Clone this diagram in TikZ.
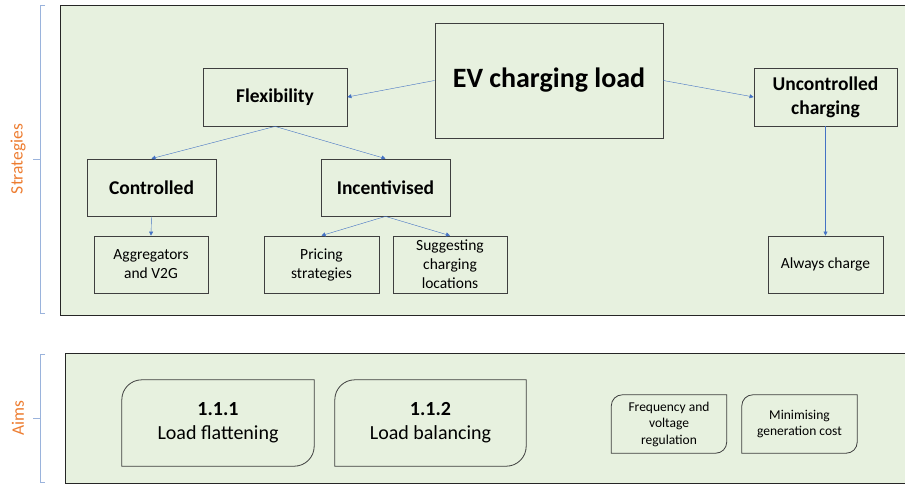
\documentclass[tikz,border=0pt]{standalone}
\usepackage{fontspec}
\setmainfont{Carlito}
\usetikzlibrary{arrows.meta}
\definecolor{panelgreen}{HTML}{E7F1DF}
\definecolor{boxline}{HTML}{3F3F3F}
\definecolor{arrowblue}{HTML}{4472C4}
\definecolor{bracketblue}{HTML}{9AB3DC}
\definecolor{labelorange}{HTML}{ED7D31}
\tikzset{
  box/.style={draw=boxline, line width=0.8pt, inner sep=0pt, align=center},
  title/.style={box, font=\fontsize{19.5}{24}\selectfont\bfseries},
  leaf/.style={box, font=\fontsize{15.5}{19}\selectfont},
  aim/.style={inner sep=0pt, align=center},
  link/.style={draw=arrowblue, line width=0.4pt, -{Triangle[length=4pt,width=4pt]}},
  bracket/.style={draw=bracketblue, line width=0.8pt},
  side/.style={text=labelorange, rotate=90, font=\fontsize{17.5}{20}\selectfont},
}
\begin{document}
\begin{tikzpicture}[x=1pt,y=-1pt]
\useasboundingbox (0,0) rectangle (905,485);
% panels and brackets
\draw[fill=panelgreen, draw=black!85, line width=1pt] (60,5) rectangle (915,315);
\draw[fill=panelgreen, draw=black!85, line width=1pt] (65,353) rectangle (915,483);
\draw[bracket] (45,5) -- (40,5) -- (40,313) -- (45,313) (40,159) -- (33,159);
\draw[bracket] (45,354) -- (40,354) -- (40,482) -- (45,482) (40,418) -- (33,418);
\node[side] (stratlabel) at (18,159) {Strategies};
\node[side] (aimlabel) at (18,418) {Aims};
% strategies
\node[box, minimum width=228pt, minimum height=115pt, font=\fontsize{28}{32}\selectfont\bfseries] (ev) at (549,80.5) {EV charging load};
\node[title, minimum width=144pt, minimum height=58pt] (flex) at (275,97) {Flexibility};
\node[title, minimum width=143pt, minimum height=58pt] (unc) at (825.5,97) {Uncontrolled\\charging};
\node[title, minimum width=129pt, minimum height=57pt] (ctrl) at (151.5,187.5) {Controlled};
\node[title, minimum width=129pt, minimum height=57pt] (inc) at (385.5,187.5) {Incentivised};
\node[leaf, minimum width=114pt, minimum height=57pt] (agg) at (151,264.5) {Aggregators\\and V2G};
\node[leaf, minimum width=115pt, minimum height=57pt] (price) at (321.5,264.5) {Pricing\\strategies};
\node[leaf, minimum width=114pt, minimum height=57pt] (sugg) at (450,264.5) {Suggesting\\charging\\locations};
\node[leaf, minimum width=115pt, minimum height=57pt] (always) at (825.5,264.5) {Always charge};
\draw[link] (ev.west) -- (flex.east);
\draw[link] (ev.east) -- (unc.west);
\draw[link] (flex.south) -- (ctrl.north);
\draw[link] (flex.south) -- (inc.north);
\draw[link] (ctrl.south) -- (agg.north);
\draw[link] (inc.south) -- (price.north);
\draw[link] (inc.south) -- (sugg.north);
\draw[link] (unc.south) -- (always.north);
% aims
\node[aim, minimum width=192pt, minimum height=86pt, font=\fontsize{20}{24}\selectfont] (flat) at (218,423) {\textbf{1.1.1}\\Load flattening};
\node[aim, minimum width=191pt, minimum height=86pt, font=\fontsize{20}{24}\selectfont] (bal) at (430.5,423) {\textbf{1.1.2}\\Load balancing};
\node[aim, minimum width=115pt, minimum height=58pt, font=\fontsize{13.5}{16.5}\selectfont] (freq) at (669,424) {Frequency and\\voltage\\regulation};
\node[aim, minimum width=115pt, minimum height=58pt, font=\fontsize{13.5}{16.5}\selectfont] (cost) at (799.5,424) {Minimising\\generation cost};
\foreach \n/\r in {flat/20pt, bal/20pt, freq/11pt, cost/11pt}
  \draw[draw=boxline, line width=0.8pt] (\n.north) -- (\n.north east) [rounded corners=\r] -- (\n.south east) [sharp corners] -- (\n.south west) [rounded corners=\r] -- (\n.north west) [sharp corners] -- (\n.north);
\end{tikzpicture}
\end{document}
